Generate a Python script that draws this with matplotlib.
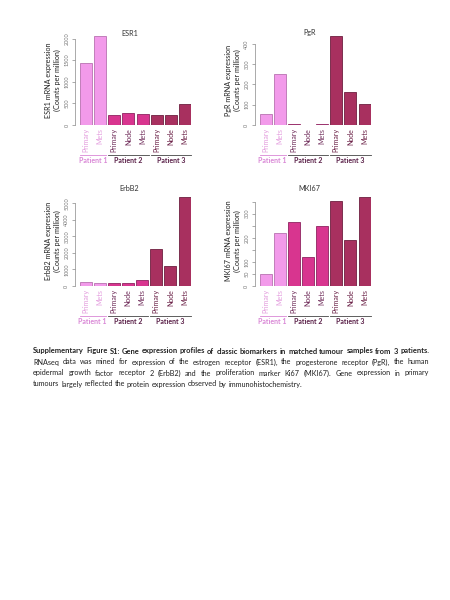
import matplotlib
matplotlib.use('Agg')
import matplotlib.pyplot as plt

plt.rcParams['font.family'] = ['Lato', 'DejaVu Sans']

# samples in the order they are drawn
samples = ['Primary', 'Mets', 'Primary', 'Node', 'Mets', 'Primary', 'Node', 'Mets']
patient_idx = [0, 0, 1, 1, 1, 2, 2, 2]
patients = ['Patient 1', 'Patient 2', 'Patient 3']

# values (counts per million)
esr1 = [1430, 2070, 232, 286, 256, 232, 225, 495]
pgr = [54, 252, 6, 2, 6, 441, 161, 105]
erbb2 = [220, 210, 200, 210, 380, 2270, 1225, 5420]
mki67 = [48, 221, 264, 122, 250, 351, 191, 371]

esr1_ticks = [0, 500, 1000, 1500, 2000]
pgr_ticks = [0, 100, 200, 300, 400]
erbb2_ticks = [0, 1000, 2000, 3000, 4000, 5000]
mki67_ticks = [0, 50, 100, 150, 200, 250, 300, 350]
mki67_ticklabels = ['0', '50', '100', '', '200', '', '300', '']

bar_colors = ['#F29AEA', '#D8358F', '#A8305F']
edge_colors = ['#B872B0', '#8E2360', '#6E1F40']
label_colors = ['#E39BDD', '#6E2A58', '#6A1F45']
patient_text_colors = ['#D987D6', '#5A2048', '#5A2048']
group_line_colors = ['#D987D6', '#444444', '#444444']

caption_bold = ('Supplementary Figure S1: Gene expression profiles of classic biomarkers '
                'in matched tumour samples from 3 patients.')
caption_lines = [
    'RNAseq data was mined for expression of the estrogen receptor (ESR1), the progesterone receptor (PgR), the human',
    'epidermal growth factor receptor 2 (ErbB2) and the proliferation marker Ki67 (MKI67). Gene expression in primary',
    'tumours largely reflected the protein expression observed by immunohistochemistry.',
]

W, H = 450, 600
fig = plt.figure(figsize=(W / 100, H / 100), dpi=100)

bar_w = 0.85
ppu = 14.15          # pixels per bar slot
xl = (-0.75, 7.45)


def fx(x):
    return x / W


def fy(y):
    return 1 - y / H


def panel(bar_start, base_y, values, ticks, ticklabels, title, ylab, title_y):
    left = bar_start - (0.75 - 0.425) * ppu
    width = (xl[1] - xl[0]) * ppu
    height = 89.5
    ax = fig.add_axes([fx(left), fy(base_y), width / W, height / H])
    cols = [bar_colors[p] for p in patient_idx]
    eds = [edge_colors[p] for p in patient_idx]
    ax.bar(range(len(values)), values, width=bar_w, color=cols, edgecolor=eds, linewidth=0.6)
    ax.set_xlim(*xl)
    ax.set_ylim(0, max(values))
    for s in ['top', 'right', 'bottom']:
        ax.spines[s].set_visible(False)
    ax.spines['left'].set_bounds(ticks[0], ticks[-1])
    ax.spines['left'].set_color('#888888')
    ax.spines['left'].set_linewidth(0.5)
    ax.set_yticks(ticks)
    ax.set_yticklabels(ticklabels if ticklabels else [str(t) for t in ticks],
                       rotation=90, va='center', fontsize=4.0, color='#777777')
    ax.tick_params(axis='y', length=2.5, width=0.5, color='#888888', pad=1.5)
    ax.set_xticks(range(len(samples)))
    ax.set_xticklabels(samples, rotation=90, fontsize=5.0, va='top')
    for lab, p in zip(ax.get_xticklabels(), patient_idx):
        lab.set_color(label_colors[p])
    ax.tick_params(axis='x', length=0, pad=2)
    ax.patch.set_visible(False)

    # title and y label
    fig.text(fx(bar_start + 50), fy(title_y), title, ha='center', va='center',
             fontsize=5.2, color='#333333')
    fig.text(fx(left - 22), fy(base_y - 45), ylab, ha='center', va='center',
             rotation=90, fontsize=5.2, color='#222222', linespacing=1.3)

    # patient groups underneath
    groups = [(0, 1), (2, 4), (5, 7)]
    for g, (a, b) in enumerate(groups):
        x0 = bar_start + a * ppu
        x1 = bar_start + b * ppu + bar_w * ppu
        fig.add_artist(plt.Line2D([fx(x0), fx(x1)], [fy(base_y + 30), fy(base_y + 30)],
                                  color=group_line_colors[g], linewidth=0.6))
        fig.text(fx((x0 + x1) / 2), fy(base_y + 35.5), patients[g], ha='center', va='center',
                 fontsize=5.0, fontweight='bold', color=patient_text_colors[g])
    return ax


panel(80, 125, esr1, esr1_ticks, None, 'ESR1',
      'ESR1 mRNA expression\n(Counts per million)', 33)
panel(259.5, 125, pgr, pgr_ticks, None, 'PgR',
      'PgR mRNA expression\n(Counts per million)', 33)
panel(79.5, 286, erbb2, erbb2_ticks, None, 'ErbB2',
      'ErbB2 mRNA expression\n(Counts per million)', 189)
panel(259.5, 286, mki67, mki67_ticks, mki67_ticklabels, 'MKI67',
      'MKI67 mRNA expression\n(Counts per million)', 189)

# caption, justified like the word document
renderer = fig.canvas.get_renderer()
cap_x0, cap_x1 = 33, 429


def text_width(s, fs, weight):
    t = fig.text(0, 0, s, fontsize=fs, fontweight=weight)
    w = t.get_window_extent(renderer).width
    t.remove()
    return w


def justified(s, y, fs, weight, justify=True):
    words = s.split()
    widths = [text_width(w, fs, weight) for w in words]
    if justify and len(words) > 1:
        gap = (cap_x1 - cap_x0 - sum(widths)) / (len(words) - 1)
    else:
        gap = text_width('a b', fs, weight) - text_width('ab', fs, weight)
    x = cap_x0
    for w, wd in zip(words, widths):
        fig.text(fx(x), fy(y), w, fontsize=fs, fontweight=weight, va='center',
                 ha='left', color='#222222')
        x += wd + gap


fs_bold = 5.0 * (cap_x1 - cap_x0 - 4) / text_width(caption_bold, 5.0, 'bold')
fs_body = 5.0 * (cap_x1 - cap_x0 - 20) / text_width(caption_lines[0], 5.0, 'normal')
justified(caption_bold, 351, fs_bold, 'bold')
justified(caption_lines[0], 362, fs_body, 'normal')
justified(caption_lines[1], 373, fs_body, 'normal')
justified(caption_lines[2], 384, fs_body, 'normal', justify=False)

fig.savefig('out.png', dpi=100, facecolor='white')
